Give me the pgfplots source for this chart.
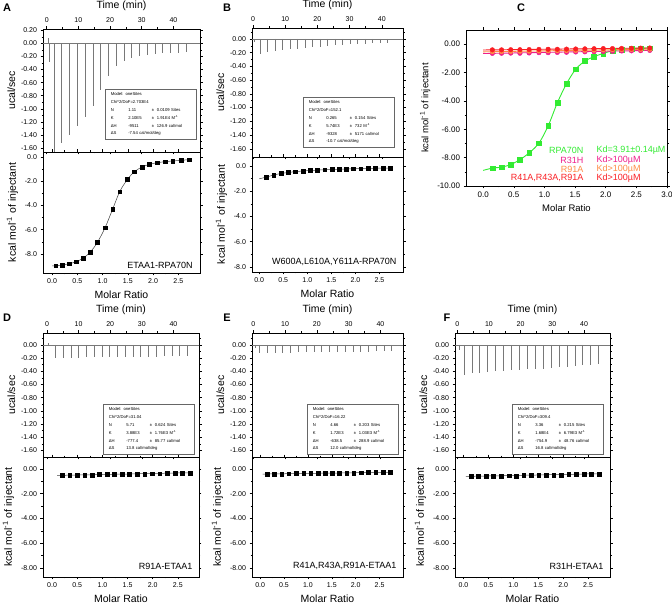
\documentclass[border=0pt]{standalone}
\usepackage{fontspec}
\setmainfont{Liberation Sans}
\usepackage{pgfplots}
\pgfplotsset{compat=1.18}
\definecolor{cgreen}{RGB}{50,235,50}
\definecolor{cpink}{RGB}{238,30,140}
\definecolor{corange}{RGB}{255,140,70}
\definecolor{cred}{RGB}{250,30,35}
\definecolor{spk}{RGB}{120,120,120}
\tikzset{ilabel/.style={font=\fontsize{9}{10}\selectfont, anchor=east}}
\pgfplotsset{
  base/.style={scale only axis, anchor=south west, axis line style={line width=0.6pt},
    tick align=outside, major tick length=2.5pt, minor tick length=1.5pt,
    tick style={black, line width=0.5pt},
    tick label style={font=\fontsize{7}{8}\selectfont},
    label style={font=\fontsize{10.5}{12}\selectfont},
    /pgf/number format/assume math mode=true},
  therm/.style={base, xticklabel pos=upper, xlabel={Time (min)}, ylabel={ucal/sec},
    xtick={0,10,20,30,40}, minor x tick num=1,
    ytick={-1.6,-1.4,-1.2,-1,-0.8,-0.6,-0.4,-0.2,0,0.2}, minor y tick num=1,
    yticklabel style={/pgf/number format/.cd, fixed, fixed zerofill, precision=2},
    ylabel style={yshift=-1pt}},
  iso/.style={base, xlabel={Molar Ratio}, ylabel={kcal mol\textsuperscript{-1} of injectant},
    xtick={0,0.5,1,1.5,2,2.5}, minor x tick num=1,
    ytick={-8,-6,-4,-2,0}, minor y tick num=1,
    xticklabel style={/pgf/number format/.cd, fixed, fixed zerofill, precision=1}},
  spikes/.style={ycomb, spk, line width=0.55pt},
  baseln/.style={spk, line width=0.5pt},
  fitl/.style={black!75, line width=0.5pt},
  sq/.style={only marks, mark=square*, mark size=1.9pt, black},
}
\newcommand{\fitbox}[9]{%
\node[draw=black!60, line width=0.6pt, fill=white, anchor=north west, inner xsep=0pt, inner ysep=3.5pt,
  text width=91pt, font=\fontsize{4.2}{7.8}\selectfont, align=left] at (#1) {%
\hspace*{5.5pt}Model: oneSites\\
\hspace*{5.5pt}Chi\textasciicircum2/DoF=#2\\
\hspace*{5.5pt}\makebox[17.5pt][l]{N}\makebox[23.5pt][l]{#3}±\ \ #4 Sites\\
\hspace*{5.5pt}\makebox[17.5pt][l]{K}\makebox[23.5pt][l]{#5}±\ \ #6 M\textsuperscript{-1}\\
\hspace*{5.5pt}\makebox[17.5pt][l]{ΔH}\makebox[23.5pt][l]{#7}±\ \ #8 cal/mol\\
\hspace*{5.5pt}\makebox[17.5pt][l]{ΔS}#9 cal/mol/deg};}
\begin{document}
\begin{tikzpicture}
\path[use as bounding box] (0,0) rectangle (672pt,604pt);
% ================= A =================
\begin{axis}[therm, at={(43pt,452pt)}, width=157pt, height=123pt,
  xmin=-1.17, xmax=48.4, ymin=-1.66, ymax=0.22]
\addplot[baseln] coordinates {(-2,0) (50,0)};
\addplot[spikes] coordinates {(0.4,0.08) (0.9,-0.28) (2.3,-1.70) (4.75,-1.53) (7.2,-1.40) (9.65,-1.26) (12.1,-1.12) (14.55,-0.95) (17.0,-0.72) (19.45,-0.50) (21.9,-0.34) (24.35,-0.27) (26.8,-0.22) (29.25,-0.19) (31.7,-0.17) (34.15,-0.16) (36.6,-0.15) (39.05,-0.14) (41.5,-0.14) (43.95,-0.13)};
\end{axis}
\begin{axis}[iso, at={(43pt,331pt)}, width=157pt, height=121pt,
  xmin=-0.18, xmax=2.93, ymin=-9.57, ymax=0.41,
  yticklabel style={/pgf/number format/.cd, fixed, fixed zerofill, precision=1}]
\addplot[fitl, smooth] coordinates {(0.0,-8.99) (0.07,-8.97) (0.20,-8.92) (0.34,-8.80) (0.48,-8.64) (0.62,-8.33) (0.76,-7.83) (0.90,-7.03) (1.05,-5.83) (1.20,-4.30) (1.34,-2.86) (1.49,-1.86) (1.63,-1.22) (1.78,-0.83) (1.93,-0.61) (2.09,-0.47) (2.24,-0.39) (2.39,-0.33) (2.55,-0.28) (2.71,-0.22)};
\addplot[sq] coordinates {(0.07,-8.97) (0.20,-8.92) (0.34,-8.80) (0.48,-8.64) (0.62,-8.33) (0.76,-7.83) (0.90,-7.03) (1.05,-5.83) (1.20,-4.30) (1.34,-2.86) (1.49,-1.86) (1.63,-1.22) (1.78,-0.83) (1.93,-0.61) (2.09,-0.47) (2.24,-0.39) (2.39,-0.33) (2.55,-0.28) (2.71,-0.22)};
\node[ilabel] at (rel axis cs:0.975,0.066) {ETAA1-RPA70N};
\end{axis}
\fitbox{105pt,515pt}{2.703E4}{1.11}{0.0109}{2.10E5}{1.91E4}{-9511}{126.9}{-7.54}
% ================= B =================
\begin{axis}[therm, at={(252pt,447pt)}, width=151pt, height=129pt,
  xmin=-0.3, xmax=46.6, ymin=-1.72, ymax=0.16]
\addplot[baseln] coordinates {(-2,0) (50,0)};
\addplot[spikes] coordinates {(0.5,-0.05) (2.2,-0.22) (4.53,-0.19) (6.86,-0.17) (9.19,-0.16) (11.52,-0.15) (13.85,-0.14) (16.18,-0.13) (18.51,-0.12) (20.84,-0.11) (23.17,-0.10) (25.5,-0.09) (27.83,-0.085) (30.16,-0.08) (32.49,-0.075) (34.82,-0.07) (37.15,-0.065) (39.48,-0.06) (41.81,-0.055)};
\end{axis}
\begin{axis}[iso, at={(252pt,332pt)}, width=151pt, height=115pt,
  xmin=-0.15, xmax=2.99, ymin=-8.4, ymax=0.71,
  yticklabel style={/pgf/number format/.cd, fixed, fixed zerofill, precision=1}]
\addplot[fitl, smooth] coordinates {(0.0,-1.02) (0.15,-0.88) (0.30,-0.72) (0.45,-0.60) (0.60,-0.52) (0.75,-0.45) (0.91,-0.40) (1.06,-0.36) (1.21,-0.33) (1.36,-0.30) (1.51,-0.28) (1.66,-0.26) (1.81,-0.24) (1.96,-0.22) (2.11,-0.21) (2.26,-0.19) (2.42,-0.18) (2.57,-0.17) (2.72,-0.16)};
\addplot[sq] coordinates {(0.15,-0.88) (0.30,-0.72) (0.45,-0.60) (0.60,-0.52) (0.75,-0.45) (0.91,-0.40) (1.06,-0.36) (1.21,-0.33) (1.36,-0.30) (1.51,-0.28) (1.66,-0.26) (1.81,-0.24) (1.96,-0.22) (2.11,-0.21) (2.26,-0.19) (2.42,-0.18) (2.57,-0.17) (2.72,-0.16)};
\node[ilabel] at (rel axis cs:0.98,0.087) {W600A,L610A,Y611A-RPA70N};
\end{axis}
\fitbox{303pt,507pt}{152.1}{0.265}{0.154}{5.74E3}{732}{-9328}{5171}{-10.7}
% ================= C =================
\begin{axis}[base, at={(466pt,418pt)}, width=201pt, height=156pt,
  xmin=-0.28, xmax=3.0, ymin=-10, ymax=1.0,
  xtick={0,0.5,1,1.5,2,2.5,3}, minor x tick num=1,
  ytick={-10,-8,-6,-4,-2,0}, minor y tick num=1,
  tick label style={font=\fontsize{8}{9}\selectfont},
  label style={font=\fontsize{9.5}{11}\selectfont},
  xticklabel style={/pgf/number format/.cd, fixed, fixed zerofill, precision=1},
  yticklabel style={/pgf/number format/.cd, fixed, fixed zerofill, precision=2},
  xlabel={Molar Ratio}, ylabel={kcal mol\textsuperscript{-1} of injectant}]
\addplot[cgreen, line width=0.9pt, smooth] coordinates {(0.0,-8.90) (0.15,-8.74) (0.30,-8.67) (0.45,-8.49) (0.60,-8.14) (0.75,-7.67) (0.91,-6.98) (1.06,-5.77) (1.21,-4.14) (1.36,-2.79) (1.51,-1.77) (1.66,-1.19) (1.81,-0.88) (1.96,-0.65) (2.11,-0.47) (2.26,-0.37) (2.42,-0.33) (2.57,-0.28) (2.72,-0.28)};
\addplot[only marks, mark=square*, mark size=2.4pt, cgreen] coordinates {(0.15,-8.74) (0.30,-8.67) (0.45,-8.49) (0.60,-8.14) (0.75,-7.67) (0.91,-6.98) (1.06,-5.77) (1.21,-4.14) (1.36,-2.79) (1.51,-1.77) (1.66,-1.19) (1.81,-0.88) (1.96,-0.65) (2.11,-0.47) (2.26,-0.37) (2.42,-0.33) (2.57,-0.28) (2.72,-0.28)};
\addplot[cpink, line width=0.9pt] coordinates {(0.0,-0.66) (2.72,-0.44)};
\addplot[only marks, mark=*, mark size=2.3pt, cpink] coordinates {(0.15,-0.65) (0.30,-0.64) (0.45,-0.63) (0.60,-0.64) (0.75,-0.62) (0.91,-0.60) (1.06,-0.60) (1.21,-0.58) (1.36,-0.57) (1.51,-0.55) (1.66,-0.54) (1.81,-0.53) (1.96,-0.52) (2.11,-0.50) (2.26,-0.48) (2.42,-0.47) (2.57,-0.46) (2.72,-0.44)};
\addplot[corange, line width=0.9pt] coordinates {(0.0,-0.54) (2.72,-0.35)};
\addplot[only marks, mark=*, mark size=2.3pt, corange] coordinates {(0.15,-0.53) (0.30,-0.52) (0.45,-0.51) (0.60,-0.50) (0.75,-0.49) (0.91,-0.48) (1.06,-0.47) (1.21,-0.46) (1.36,-0.45) (1.51,-0.44) (1.66,-0.43) (1.81,-0.42) (1.96,-0.40) (2.11,-0.39) (2.26,-0.38) (2.42,-0.37) (2.57,-0.36) (2.72,-0.35)};
\addplot[cred, line width=0.9pt] coordinates {(0.0,-0.41) (2.72,-0.27)};
\addplot[only marks, mark=*, mark size=2.3pt, cred] coordinates {(0.15,-0.40) (0.30,-0.40) (0.45,-0.39) (0.60,-0.39) (0.75,-0.38) (0.91,-0.37) (1.06,-0.36) (1.21,-0.36) (1.36,-0.35) (1.51,-0.34) (1.66,-0.33) (1.81,-0.32) (1.96,-0.31) (2.11,-0.31) (2.26,-0.30) (2.42,-0.29) (2.57,-0.28) (2.72,-0.27)};
\begin{scope}[font=\fontsize{9}{10}\selectfont]
\node[anchor=east, text=cgreen] at (rel axis cs:0.602,0.23) {RPA70N};
\node[anchor=west, text=cgreen] at (rel axis cs:0.632,0.23) {Kd=3.91±0.14µM};
\node[anchor=east, text=cpink] at (rel axis cs:0.602,0.167) {R31H};
\node[anchor=west, text=cpink] at (rel axis cs:0.632,0.167) {Kd>100µM};
\node[anchor=east, text=corange] at (rel axis cs:0.602,0.109) {R91A};
\node[anchor=west, text=corange] at (rel axis cs:0.632,0.109) {Kd>100µM};
\node[anchor=east, text=cred] at (rel axis cs:0.602,0.051) {R41A,R43A,R91A};
\node[anchor=west, text=cred] at (rel axis cs:0.632,0.051) {Kd>100µM};
\end{scope}
\end{axis}
% ================= D =================
\begin{axis}[therm, at={(43pt,147pt)}, width=156pt, height=124pt,
  xmin=-1.27, xmax=48.1, ymin=-1.70, ymax=0.18]
\addplot[baseln] coordinates {(-2,0) (50,0)};
\addplot[spikes] coordinates {(0.5,0.03) (2.6,-0.20) (5.06,-0.20) (7.52,-0.20) (9.98,-0.20) (12.44,-0.19) (14.9,-0.19) (17.36,-0.19) (19.82,-0.19) (22.28,-0.19) (24.74,-0.18) (27.2,-0.18) (29.66,-0.18) (32.12,-0.18) (34.58,-0.18) (37.04,-0.17) (39.5,-0.17) (41.96,-0.17) (44.42,-0.17)};
\end{axis}
\begin{axis}[iso, at={(43pt,27pt)}, width=156pt, height=120pt,
  xmin=-0.18, xmax=2.92, ymin=-8.73, ymax=0.97,
  yticklabel style={/pgf/number format/.cd, fixed, fixed zerofill, precision=2}]
\addplot[fitl] coordinates {(0.1,-0.52) (2.75,-0.30)};
\addplot[sq] coordinates {(0.20,-0.51) (0.35,-0.49) (0.50,-0.49) (0.65,-0.47) (0.80,-0.47) (0.94,-0.45) (1.09,-0.45) (1.24,-0.43) (1.39,-0.43) (1.54,-0.42) (1.69,-0.40) (1.84,-0.40) (1.99,-0.38) (2.14,-0.38) (2.29,-0.37) (2.44,-0.35) (2.59,-0.34) (2.74,-0.31)};
\node[ilabel] at (rel axis cs:0.98,0.09) {R91A-ETAA1};
\end{axis}
\fitbox{103pt,200pt}{31.04}{5.71}{0.624}{3.88E3}{1.76E3}{-777.4}{85.77}{13.8}
% ================= E =================
\begin{axis}[therm, at={(252pt,147pt)}, width=151pt, height=124pt,
  xmin=-0.4, xmax=47.1, ymin=-1.70, ymax=0.18]
\addplot[baseln] coordinates {(-2,0) (50,0)};
\addplot[spikes] coordinates {(0.5,-0.04) (1.9,-0.12) (4.35,-0.12) (6.8,-0.12) (9.25,-0.12) (11.7,-0.12) (14.15,-0.115) (16.6,-0.115) (19.05,-0.115) (21.5,-0.11) (23.95,-0.11) (26.4,-0.11) (28.85,-0.11) (31.3,-0.105) (33.75,-0.105) (36.2,-0.105) (38.65,-0.10) (41.1,-0.10) (43.55,-0.10)};
\end{axis}
\begin{axis}[iso, at={(252pt,27pt)}, width=151pt, height=120pt,
  xmin=-0.17, xmax=2.99, ymin=-8.73, ymax=0.97,
  yticklabel style={/pgf/number format/.cd, fixed, fixed zerofill, precision=2}]
\addplot[fitl] coordinates {(0.05,-0.41) (2.75,-0.26)};
\addplot[sq] coordinates {(0.15,-0.40) (0.30,-0.39) (0.45,-0.39) (0.60,-0.38) (0.75,-0.37) (0.91,-0.36) (1.06,-0.35) (1.21,-0.35) (1.36,-0.34) (1.51,-0.33) (1.66,-0.32) (1.81,-0.31) (1.96,-0.31) (2.11,-0.30) (2.26,-0.29) (2.42,-0.28) (2.57,-0.28) (2.72,-0.27)};
\node[ilabel] at (rel axis cs:0.98,0.09) {R41A,R43A,R91A-ETAA1};
\end{axis}
\fitbox{307pt,200pt}{16.22}{4.66}{0.203}{1.72E3}{1.03E3}{-638.5}{288.9}{12.0}
% ================= F =================
\begin{axis}[therm, at={(455pt,147pt)}, width=155pt, height=124pt,
  xmin=-0.7, xmax=48.2, ymin=-1.70, ymax=0.18]
\addplot[baseln] coordinates {(-2,0) (50,0)};
\addplot[spikes] coordinates {(0.6,-0.08) (2.1,-0.45) (4.6,-0.43) (7.1,-0.42) (9.6,-0.41) (12.1,-0.40) (14.6,-0.39) (17.1,-0.38) (19.6,-0.38) (22.1,-0.37) (24.6,-0.36) (27.1,-0.36) (29.6,-0.35) (32.1,-0.34) (34.6,-0.33) (37.1,-0.32) (39.6,-0.31) (42.1,-0.30) (44.6,-0.29)};
\end{axis}
\begin{axis}[iso, at={(455pt,27pt)}, width=155pt, height=120pt,
  xmin=-0.17, xmax=2.94, ymin=-8.73, ymax=0.97,
  yticklabel style={/pgf/number format/.cd, fixed, fixed zerofill, precision=2}]
\addplot[fitl] coordinates {(0.05,-0.60) (2.75,-0.38)};
\addplot[sq] coordinates {(0.15,-0.59) (0.30,-0.58) (0.45,-0.57) (0.60,-0.58) (0.75,-0.57) (0.91,-0.54) (1.06,-0.55) (1.21,-0.53) (1.36,-0.52) (1.51,-0.50) (1.66,-0.49) (1.81,-0.48) (1.96,-0.47) (2.11,-0.45) (2.26,-0.44) (2.42,-0.43) (2.57,-0.42) (2.72,-0.40)};
\node[ilabel] at (rel axis cs:0.98,0.09) {R31H-ETAA1};
\end{axis}
\fitbox{512pt,200pt}{309.4}{3.36}{0.215}{1.68E4}{6.79E3}{-754.9}{48.76}{16.8}
% panel letters
\begin{scope}[font=\bfseries\fontsize{11}{12}\selectfont]
\node at (7pt,596pt) {A};
\node at (227pt,596pt) {B};
\node at (521pt,596pt) {C};
\node at (7pt,286pt) {D};
\node at (227pt,286pt) {E};
\node at (447pt,286pt) {F};
\end{scope}
\end{tikzpicture}
\end{document}
